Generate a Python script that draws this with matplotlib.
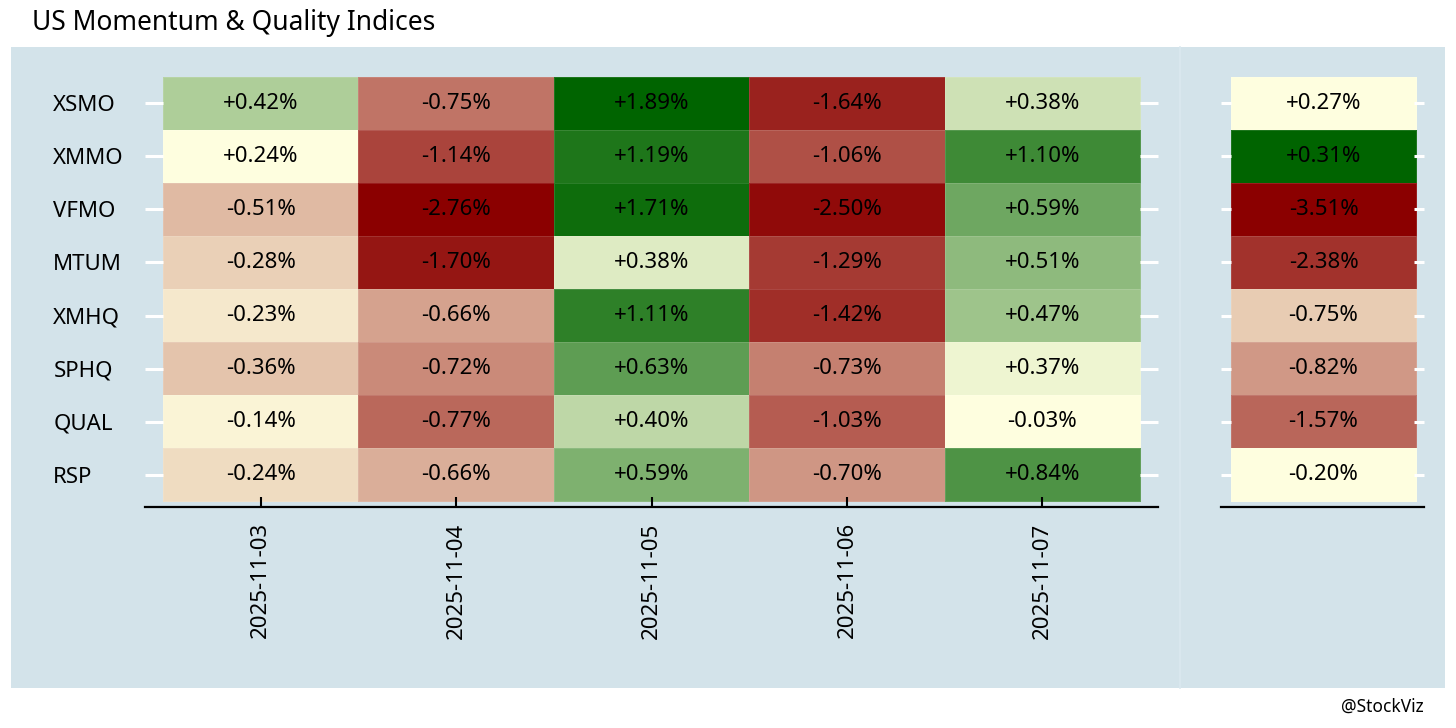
import numpy as np
import matplotlib
matplotlib.use("Agg")
import matplotlib.pyplot as plt
from matplotlib.colors import LinearSegmentedColormap
from matplotlib.patches import Rectangle

plt.rcParams['font.family'] = ['Noto Sans', 'DejaVu Sans']

tickers = ['XSMO', 'XMMO', 'VFMO', 'MTUM', 'XMHQ', 'SPHQ', 'QUAL', 'RSP']
dates = ['2025-11-03', '2025-11-04', '2025-11-05', '2025-11-06', '2025-11-07']

# daily returns (%), one list per date, in ticker order
d1103 = [0.42, 0.24, -0.51, -0.28, -0.23, -0.36, -0.14, -0.24]
d1104 = [-0.75, -1.14, -2.76, -1.70, -0.662, -0.72, -0.77, -0.658]
d1105 = [1.89, 1.19, 1.71, 0.378, 1.11, 0.63, 0.40, 0.588]
d1106 = [-1.64, -1.06, -2.50, -1.29, -1.42, -0.73, -1.03, -0.70]
d1107 = [0.382, 1.10, 0.592, 0.51, 0.47, 0.37, -0.03, 0.84]
# period total (%)
period = [0.27, 0.31, -3.51, -2.38, -0.75, -0.82, -1.57, -0.20]

BG = '#d3e3ea'
cmap = LinearSegmentedColormap.from_list('ryg', ['darkred', 'lightyellow', 'darkgreen'])


def rank_fill(vals):
    # negatives ranked onto red->yellow, positives onto yellow->green
    vals = np.asarray(vals, dtype=float)
    shape = vals.shape
    flat = vals.ravel()
    out = np.zeros_like(flat)
    for mask, lo in ((flat < 0, 0.0), (flat >= 0, 0.5)):
        idx = np.where(mask)[0]
        if len(idx) == 0:
            continue
        order = idx[np.argsort(flat[idx], kind='stable')]
        n = len(order)
        for k, i in enumerate(order):
            out[i] = lo + 0.5 * (k / (n - 1) if n > 1 else 1.0)
    return out.reshape(shape)


fig = plt.figure(figsize=(14.56, 7.28), dpi=100)

# panel backgrounds
fig.patches.append(Rectangle((11 / 1456, 1 - 688 / 728), (1180 - 11) / 1456, (688 - 47) / 728,
                             transform=fig.transFigure, facecolor=BG, edgecolor='none', zorder=-2))
fig.patches.append(Rectangle((1180 / 1456, 1 - 688 / 728), (1445 - 1180) / 1456, (688 - 47) / 728,
                             transform=fig.transFigure, facecolor=BG, edgecolor='none', zorder=-2))
fig.add_artist(plt.Line2D([1180 / 1456, 1180 / 1456], [1 - 688 / 728, 1 - 47 / 728],
                          transform=fig.transFigure, color='#dbe9ef', lw=1.2, zorder=-1))


def heat(ax, data, xlabels, xpad_l, xpad_r, ticklen, show_y):
    data = np.asarray(data, dtype=float)
    fill = rank_fill(data)
    nr, nc = data.shape
    ax.pcolormesh(np.arange(nc + 1) - 0.5, np.arange(nr + 1) - 0.5, fill, cmap=cmap,
                  vmin=0, vmax=1, edgecolors=(1, 1, 1, 0.12), linewidth=0.6)
    for r in range(nr):
        for c in range(nc):
            ax.text(c, r, f'{data[r, c]:+.2f}%', ha='center', va='center', fontsize=16, color='black')
    ax.set_xlim(-0.5 - xpad_l, nc - 0.5 + xpad_r)
    ax.set_ylim(nr - 0.5 + 0.113, -0.5 - 0.113)
    ax.set_facecolor('none')
    for s in ('top', 'left', 'right'):
        ax.spines[s].set_visible(False)
    ax.spines['bottom'].set_linewidth(1.6)
    ax.spines['bottom'].set_color('black')
    ax.set_yticks(range(nr))
    ax.tick_params(axis='y', which='both', direction='in', length=ticklen, width=2.2,
                   color='white', left=True, right=True)
    if show_y:
        ax.set_yticklabels(tickers, fontsize=16)
        ax.tick_params(axis='y', pad=66)
        for t in ax.get_yticklabels():
            t.set_ha('left')
    else:
        ax.set_yticklabels([])
    if xlabels:
        ax.set_xticks(range(nc))
        ax.set_xticklabels(xlabels, rotation=90, fontsize=16)
        ax.tick_params(axis='x', direction='in', length=7, width=1.5, color='black', pad=11)
    else:
        ax.set_xticks([])


ax1 = fig.add_axes([145 / 1456, 1 - 507 / 728, (1158 - 145) / 1456, 436 / 728])
main = np.column_stack([d1103, d1104, d1105, d1106, d1107])
heat(ax1, main, dates, 18 / 195.4, 18 / 195.4, 13, True)

ax2 = fig.add_axes([1221 / 1456, 1 - 507 / 728, (1424 - 1221) / 1456, 436 / 728])
heat(ax2, np.column_stack([period]), None, 10 / 185, 8 / 185, 7, False)

fig.text(32 / 1456, 1 - 30 / 728, 'US Momentum & Quality Indices', fontsize=19, ha='left', va='baseline')
fig.text(1424 / 1456, 1 - 707 / 728, '@StockViz', fontsize=12.5, ha='right', va='center')

fig.savefig('out.png', dpi=100)
